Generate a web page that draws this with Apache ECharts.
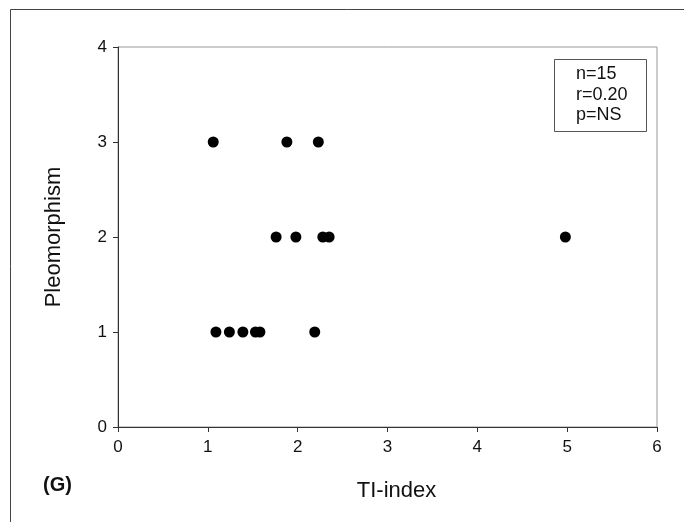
<!DOCTYPE html>
<html>
<head>
<meta charset="utf-8">
<script src="https://cdn.jsdelivr.net/npm/echarts@6/dist/echarts.min.js"></script>
<style>
html, body { margin: 0; padding: 0; background: #fff; }
#chart { width: 684px; height: 522px; }
</style>
</head>
<body>
<div id="chart"></div>
<script>
// TI-index vs pleomorphism grade
var tiIndex = [1.06, 1.88, 2.23, 1.76, 1.98, 2.28, 2.35, 4.98, 1.09, 1.24, 1.39, 1.53, 1.58, 2.19];
var pleo    = [3,    3,    3,    2,    2,    2,    2,    2,    1,    1,    1,    1,    1,    1];
var statLines = ['n=15', 'r=0.20', 'p=NS'];

var points = [];
for (var i = 0; i < tiIndex.length; i++) {
    points.push([tiIndex[i], pleo[i]]);
}

var chart = echarts.init(document.getElementById('chart'));
var font = 'Liberation Sans, Arial, sans-serif';

var option = {
    animation: false,
    backgroundColor: '#fff',
    grid: { left: 118, right: 27, top: 47, bottom: 95, show: true, borderColor: '#999', borderWidth: 1 },
    xAxis: {
        type: 'value', min: 0, max: 6, interval: 1,
        name: 'TI-index', nameLocation: 'middle', nameGap: 53,
        nameTextStyle: { fontFamily: font, fontSize: 22, color: '#111', padding: [0, 0, 0, 18] },
        axisLine: { lineStyle: { color: '#333', width: 1 } },
        axisTick: { show: true, length: 5, lineStyle: { color: '#333' } },
        axisLabel: { fontFamily: font, fontSize: 17, color: '#111', margin: 12 },
        splitLine: { show: false }
    },
    yAxis: {
        type: 'value', min: 0, max: 4, interval: 1,
        name: 'Pleomorphism', nameLocation: 'middle', nameGap: 53,
        nameTextStyle: { fontFamily: font, fontSize: 22, color: '#111' },
        axisLine: { show: true, lineStyle: { color: '#333', width: 1 } },
        axisTick: { show: true, length: 5, lineStyle: { color: '#333' } },
        axisLabel: { fontFamily: font, fontSize: 17, color: '#111', margin: 11 },
        splitLine: { show: false }
    },
    series: [{
        type: 'scatter',
        data: points,
        symbol: 'circle',
        symbolSize: 11,
        itemStyle: { color: '#000', opacity: 1 }
    }],
    graphic: [
        { type: 'rect', left: 8, top: 7, shape: { width: 690, height: 530 },
          style: { fill: 'none', stroke: '#444', lineWidth: 1 } },
        { type: 'rect', left: 554, top: 59, shape: { width: 92, height: 72 },
          style: { fill: '#fff', stroke: '#555', lineWidth: 1 } },
        { type: 'text', left: 576, top: 64,
          style: { text: statLines.join('\n'), font: '18px ' + font, fill: '#111', lineHeight: 20.5 } },
        { type: 'text', left: 43, top: 475,
          style: { text: '(G)', font: 'bold 20px ' + font, fill: '#111' } }
    ]
};
chart.setOption(option);
</script>
</body>
</html>
